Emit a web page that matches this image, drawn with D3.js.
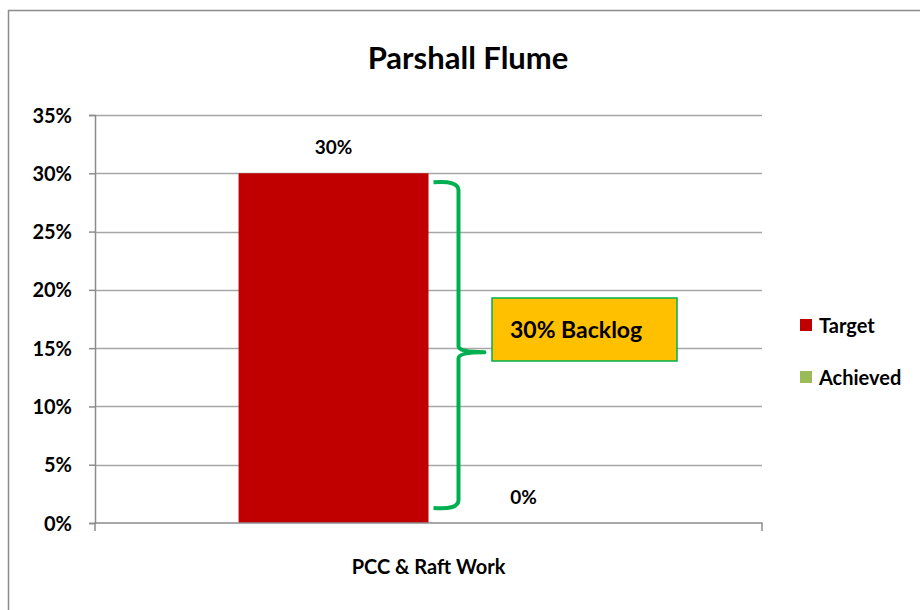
<!DOCTYPE html>
<html>
<head>
<meta charset="utf-8">
<script src="https://cdn.jsdelivr.net/npm/d3@7"></script>
<style>
  body { margin: 0; background: #fff; }
  text { font-family: Lato, "Liberation Sans Narrow", sans-serif; font-weight: bold; fill: #000; }
</style>
</head>
<body>
<div id="chart"></div>
<script>
// data
var categories = ["PCC & Raft Work"];
var seriesNames = ["Target", "Achieved"];
var seriesColors = ["#C00000", "#9BBB59"];
var targetValues = [0.30];
var achievedValues = [0.00];
var yTicks = [0, 0.05, 0.10, 0.15, 0.20, 0.25, 0.30, 0.35];
var backlogText = "30% Backlog";

var W = 920, H = 610;
var margin = { top: 115, right: 158, bottom: 87, left: 95 };
var width = W - margin.left - margin.right,
    height = H - margin.top - margin.bottom;

var svg = d3.select("#chart").append("svg")
  .attr("width", W).attr("height", H);

// outer chart frame
svg.append("rect")
  .attr("x", 8.5).attr("y", 10.5)
  .attr("width", W).attr("height", H)
  .attr("fill", "#fff").attr("stroke", "#8c8c8c").attr("stroke-width", 1.5);

svg.append("text")
  .attr("x", 468).attr("y", 69)
  .attr("text-anchor", "middle")
  .style("font-size", "31px")
  .text("Parshall Flume");

var g = svg.append("g").attr("transform", "translate(" + margin.left + "," + margin.top + ")");

var x = d3.scaleBand().domain(categories).range([0, width]).paddingOuter(0.378).paddingInner(0);
var xs = d3.scaleBand().domain(seriesNames).range([0, x.bandwidth()]);
var y = d3.scaleLinear().domain([0, 0.35]).range([height, 0]);

// gridlines
g.append("g").selectAll("line").data(yTicks.slice(1)).enter().append("line")
  .attr("x1", 0).attr("x2", width)
  .attr("y1", function(d) { return Math.round(y(d)) + 0.5; })
  .attr("y2", function(d) { return Math.round(y(d)) + 0.5; })
  .attr("stroke", "#a6a6a6").attr("stroke-width", 1.5);

// y axis
var yAxis = g.append("g")
  .call(d3.axisLeft(y).tickValues(yTicks).tickFormat(d3.format(".0%")).tickSize(6).tickPadding(17));
yAxis.select(".domain").attr("stroke", "#8c8c8c").attr("stroke-width", 1.5);
yAxis.selectAll(".tick line").attr("stroke", "#8c8c8c").attr("stroke-width", 1.5);
yAxis.selectAll("text").style("font-size", "20px").attr("dy", "0.35em");

// bars
var series = [targetValues, achievedValues];
var groups = g.selectAll(".cat").data(categories).enter().append("g")
  .attr("transform", function(d) { return "translate(" + x(d) + ",0)"; });

seriesNames.forEach(function(s, si) {
  groups.append("rect")
    .attr("x", xs(s))
    .attr("width", xs.bandwidth())
    .attr("y", function(d, i) { return y(series[si][i]); })
    .attr("height", function(d, i) { return height - y(series[si][i]); })
    .attr("fill", seriesColors[si]);
  groups.append("text")
    .attr("x", xs(s) + xs.bandwidth() / 2)
    .attr("y", function(d, i) { return y(series[si][i]) - 19; })
    .attr("text-anchor", "middle")
    .style("font-size", "19px")
    .text(function(d, i) { return d3.format(".0%")(series[si][i]); });
});

// x axis
var xAxis = g.append("g").attr("transform", "translate(0," + height + ")")
  .call(d3.axisBottom(x).tickSize(0).tickPadding(37).tickSizeOuter(8));
xAxis.select(".domain").attr("stroke", "#8c8c8c").attr("stroke-width", 1.5)
  .attr("d", "M0,8V0H" + width + "V8");
xAxis.selectAll("text").style("font-size", "20px");

// backlog brace
var bx = x(categories[0]) + xs("Target") + xs.bandwidth();
var yTop = y(targetValues[0]) + 9, yBot = y(0) - 15, yMid = (y(targetValues[0]) + y(0)) / 2 + 4;
var bv = bx + 30, tip = bx + 56;
var brace = "M" + (bx + 5) + "," + yTop +
  "Q" + bv + "," + (yTop - 2) + " " + bv + "," + (yTop + 8) +
  "V" + (yMid - 6) +
  "Q" + bv + "," + yMid + " " + tip + "," + yMid +
  "Q" + bv + "," + yMid + " " + bv + "," + (yMid + 6) +
  "V" + (yBot - 8) +
  "Q" + bv + "," + (yBot + 2) + " " + (bx + 5) + "," + yBot;
g.append("path").attr("d", brace)
  .attr("fill", "none").attr("stroke", "#00B050").attr("stroke-width", 4)
  .attr("stroke-linejoin", "round");

// callout box
var boxX = 492 - margin.left, boxY = 298 - margin.top;
g.append("rect")
  .attr("x", boxX).attr("y", boxY).attr("width", 185).attr("height", 63)
  .attr("fill", "#FFC000").attr("stroke", "#00B050").attr("stroke-width", 1.5);
g.append("text")
  .attr("x", boxX + 18).attr("y", boxY + 40)
  .style("font-size", "23px")
  .text(backlogText);

// legend
var legend = svg.append("g").attr("transform", "translate(800,319)");
seriesNames.forEach(function(s, i) {
  legend.append("rect").attr("x", 0).attr("y", i * 52).attr("width", 12).attr("height", 12)
    .attr("fill", seriesColors[i]);
  legend.append("text").attr("x", 19).attr("y", i * 52 + 14)
    .style("font-size", "20px").text(s);
});
</script>
</body>
</html>
